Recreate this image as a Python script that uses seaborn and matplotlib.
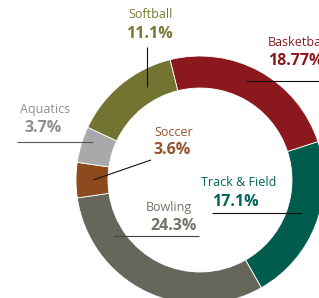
import matplotlib
matplotlib.use("Agg")
import matplotlib.pyplot as plt
import seaborn as sns

sns.set_theme(style="white")
plt.rcParams['font.family'] = ['Open Sans', 'DejaVu Sans']

categories = ["Basketball", "Track & Field", "Bowling", "Soccer", "Aquatics", "Softball"]
values = [18.77, 17.1, 24.3, 3.6, 3.7, 11.1]
pct_labels = ["18.77%", "17.1%", "24.3%", "3.6%", "3.7%", "11.1%"]
wedge_colors = ["#8a181c", "#005d4e", "#66665b", "#8c4a1d", "#a9a9ac", "#737332"]
text_colors = ["#8a181c", "#00655a", "#737368", "#94522a", "#8e8e8e", "#777734"]

W, H = 319, 298
fig = plt.figure(figsize=(W / 100, H / 100), dpi=100)
ax = fig.add_axes([0, 0, 1, 1])

def py(y):
    return H - y

cx, cy, R = 200, 180, 124
ax.pie(values, colors=wedge_colors, startangle=104, counterclock=False,
       center=(cx, py(cy)), radius=R,
       wedgeprops=dict(width=32, edgecolor="white", linewidth=0.6))
ax.set_xlim(0, W)
ax.set_ylim(0, H)
ax.set_aspect("auto")
ax.axis("off")

# label layout in pixel coords: (name x, name y, pct x, pct y, ha)
layout = {
    "Basketball": (268, 43, 268, 61, "left"),
    "Track & Field": (201, 183, 212, 202, "left"),
    "Bowling": (146, 207, 150, 226, "left"),
    "Soccer": (154, 132, 153, 150, "left"),
    "Aquatics": (20, 109, 24, 128, "left"),
    "Softball": (151, 15, 149, 34, "center"),
}
leaders = {
    "Basketball": ((246, 81), (319, 81), "#111111"),
    "Track & Field": ((212, 213), (302, 213), "#111111"),
    "Bowling": ((113, 236), (199, 236), "#444444"),
    "Soccer": ((151, 160), (93, 180), "#111111"),
    "Aquatics": ((17, 142), (93, 142), "#555555"),
    "Softball": ((147, 47), (147, 87), "#111111"),
}

for cat, pct, tc in zip(categories, pct_labels, text_colors):
    nx, ny, px_, py_, ha = layout[cat]
    ax.text(nx, py(ny), cat, color=tc, fontsize=9, ha=ha, va="center")
    ax.text(px_, py(py_), pct, color=tc, fontsize=11.5, fontweight="bold", ha=ha, va="center")
    (x0, y0), (x1, y1), lc = leaders[cat]
    ax.plot([x0, x1], [py(y0), py(y1)], color=lc, linewidth=0.8, solid_capstyle="butt")

fig.savefig("out.png", dpi=100)
